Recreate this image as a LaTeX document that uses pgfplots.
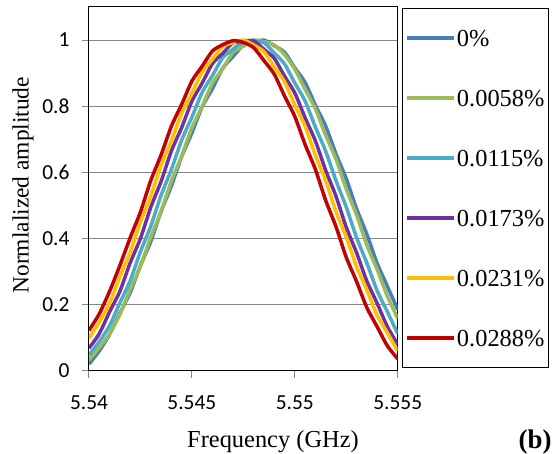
\documentclass[border=0pt]{standalone}
\usepackage{fontspec}
\setmainfont{Liberation Serif}
\newfontfamily\carlito{Carlito}
\usepackage{pgfplots}
\pgfplotsset{compat=1.18}
\usepackage{pgfplotstable}

\definecolor{S1}{HTML}{4A7EBB}
\definecolor{S2}{HTML}{9BBB59}
\definecolor{S3}{HTML}{4BACC6}
\definecolor{S4}{HTML}{7030A0}
\definecolor{S5}{HTML}{FFC000}
\definecolor{S6}{HTML}{C00000}
\definecolor{G}{HTML}{868686}

% normalized amplitude vs frequency (GHz), one column per strain
\pgfplotstableread{
f      s1    s2    s3    s4    s5    s6
5.5400 0.020 0.032 0.047 0.068 0.098 0.122
5.5405 0.060 0.070 0.088 0.112 0.147 0.172
5.5410 0.110 0.112 0.136 0.178 0.204 0.240
5.5415 0.174 0.170 0.205 0.240 0.284 0.318
5.5420 0.236 0.246 0.272 0.326 0.358 0.402
5.5425 0.318 0.316 0.360 0.400 0.449 0.480
5.5430 0.390 0.404 0.437 0.494 0.528 0.575
5.5435 0.481 0.482 0.530 0.572 0.620 0.652
5.5440 0.558 0.573 0.608 0.664 0.695 0.739
5.5445 0.647 0.649 0.697 0.735 0.778 0.805
5.5450 0.719 0.735 0.767 0.815 0.839 0.876
5.5455 0.798 0.800 0.842 0.870 0.903 0.921
5.5460 0.853 0.870 0.893 0.929 0.942 0.967
5.5465 0.915 0.914 0.947 0.960 0.981 0.986
5.5470 0.950 0.963 0.972 0.992 0.992 0.998
5.5475 0.985 0.981 0.998 0.996 1.000 0.993
5.5480 0.994 1.000 0.996 0.998 0.985 0.977
5.5485 1.000 0.995 0.992 0.972 0.965 0.938
5.5490 0.983 0.985 0.961 0.945 0.919 0.897
5.5495 0.963 0.956 0.928 0.891 0.874 0.831
5.5500 0.916 0.912 0.870 0.840 0.804 0.769
5.5505 0.872 0.851 0.816 0.765 0.739 0.684
5.5510 0.803 0.792 0.737 0.695 0.652 0.609
5.5515 0.740 0.712 0.664 0.606 0.575 0.515
5.5520 0.656 0.640 0.575 0.528 0.482 0.436
5.5525 0.581 0.549 0.495 0.434 0.404 0.343
5.5530 0.490 0.471 0.403 0.357 0.315 0.270
5.5535 0.413 0.380 0.326 0.271 0.244 0.191
5.5540 0.325 0.306 0.242 0.204 0.168 0.133
5.5545 0.255 0.225 0.178 0.133 0.114 0.075
5.5550 0.185 0.158 0.112 0.080 0.060 0.036
}\spectra

\begin{document}
\begin{tikzpicture}
\path[use as bounding box] (-89bp,-83.3bp) rectangle (468bp,370.7bp);
\begin{axis}[
    at={(0,0)}, anchor=south west,
    scale only axis, width=308.7bp, height=363.7bp,
    xmin=5.54, xmax=5.555, ymin=0, ymax=1.1,
    xtick={5.54,5.545,5.55,5.555}, xticklabels={5.54,5.545,5.55,5.555},
    ytick={0,0.2,0.4,0.6,0.8,1}, yticklabels={0,0.2,0.4,0.6,0.8,1},
    xtick pos=bottom, ytick pos=left,
    tick align=outside, major tick length=7bp,
    tick style={draw=G, line width=1bp},
    ymajorgrids, grid style={draw=G, line width=1bp},
    axis line style={black, line width=1bp},
    ticklabel style={font=\carlito\fontsize{21.5}{21.5}\selectfont},
    xticklabel style={yshift=-15bp},
    yticklabel style={xshift=-9bp},
    xlabel={Frequency (GHz)},
    ylabel={Normlalized amplitude},
    xlabel style={font=\fontsize{24.5}{24.5}\selectfont, at={(axis description cs:0.596,-0.2125)}, anchor=base},
    ylabel style={font=\fontsize{23.5}{23.5}\selectfont, at={(axis description cs:-0.214,0.51)}, anchor=center},
    legend style={at={(axis description cs:1.0139,0.9973)}, anchor=north west,
        draw=black, line width=1bp, inner xsep=3bp, inner ysep=20bp, row sep=41bp,
        font=\fontsize{24.5}{24.5}\selectfont,
        nodes={inner sep=1bp, text height=17bp, text depth=0bp}},
    legend cell align=left,
    legend image code/.code={\draw[#1, line width=3.5bp] (0bp,0bp) -- (47bp,0bp);},
    no markers,
    every axis plot/.append style={line width=3.5bp, smooth, tension=0.4},
]
\addplot[S1] table[x=f, y=s1] {\spectra};
\addplot[S2] table[x=f, y=s2] {\spectra};
\addplot[S3] table[x=f, y=s3] {\spectra};
\addplot[S4] table[x=f, y=s4] {\spectra};
\addplot[S5] table[x=f, y=s5] {\spectra};
\addplot[S6] table[x=f, y=s6] {\spectra};
\legend{0\%, 0.0058\%, 0.0115\%, 0.0173\%, 0.0231\%, 0.0288\%}
\end{axis}
\node[anchor=base east, font=\bfseries\fontsize{27}{27}\selectfont] at (466bp,-77.3bp) {(b)};
\end{tikzpicture}
\end{document}
